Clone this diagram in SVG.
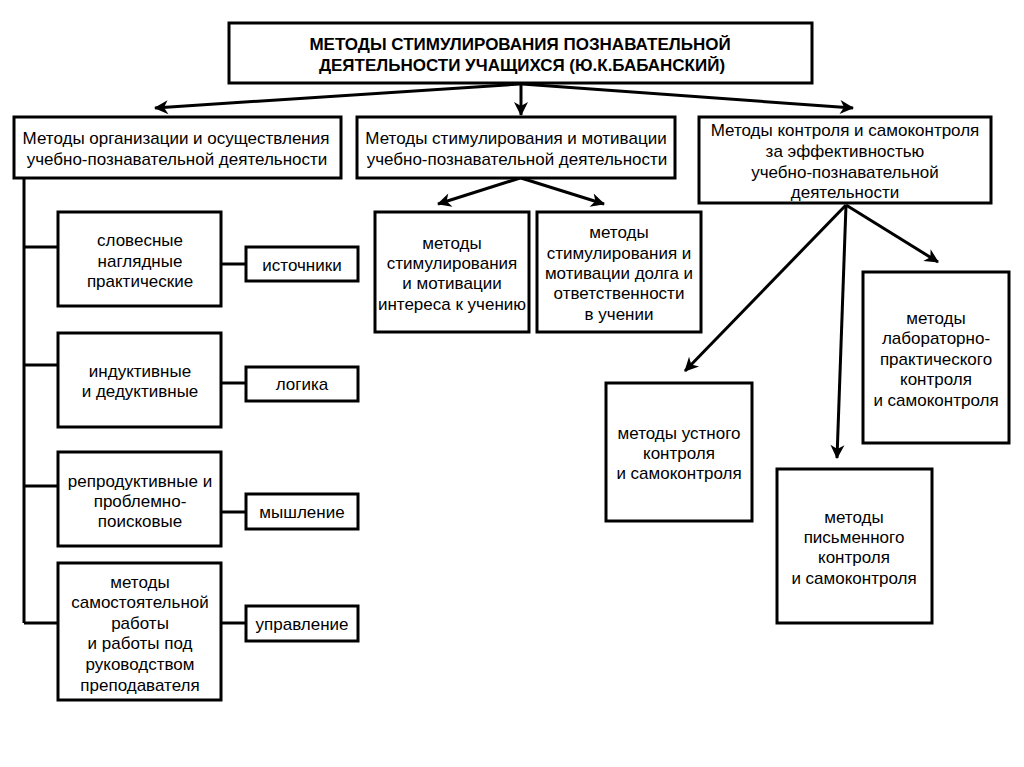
<svg xmlns="http://www.w3.org/2000/svg" width="1024" height="767" viewBox="0 0 1024 767">
<defs>
<style>
rect.b{fill:#fff;stroke:#000;stroke-width:3}
.c line,.c path{stroke:#000;stroke-width:3;fill:none}
text{font-family:"Liberation Sans",Arial,sans-serif;font-size:17px;fill:#000;text-anchor:middle}
text.t{font-weight:bold;font-size:17px}
</style>
<marker id="ah" viewBox="-14 -8 16 16" markerWidth="16" markerHeight="16" refX="0" refY="0" orient="auto" markerUnits="userSpaceOnUse">
<path d="M1,0 L-13,-7 L-9,0 L-13,7 Z" fill="#000"/>
</marker>
</defs>
<rect width="1024" height="767" fill="#fff"/>
<g class="c" id="connectors">
<line x1="520" y1="84" x2="155" y2="108" marker-end="url(#ah)"/>
<line x1="521" y1="84" x2="521" y2="115" marker-end="url(#ah)"/>
<line x1="522" y1="84" x2="853" y2="108" marker-end="url(#ah)"/>
<line x1="520" y1="178" x2="438" y2="204" marker-end="url(#ah)"/>
<line x1="521" y1="178" x2="604" y2="204" marker-end="url(#ah)"/>
<line x1="846" y1="205" x2="685" y2="371" marker-end="url(#ah)"/>
<line x1="846" y1="205" x2="837" y2="458" marker-end="url(#ah)"/>
<line x1="846" y1="205" x2="938" y2="262" marker-end="url(#ah)"/>
<path d="M24,178 V623"/>
<line x1="24" y1="247" x2="58" y2="247"/>
<line x1="24" y1="365" x2="58" y2="365"/>
<line x1="24" y1="486" x2="58" y2="486"/>
<line x1="24" y1="623" x2="58" y2="623"/>
<line x1="221" y1="264" x2="246" y2="264"/>
<line x1="221" y1="383" x2="246" y2="383"/>
<line x1="221" y1="512" x2="246" y2="512"/>
<line x1="221" y1="623" x2="246" y2="623"/>
</g>
<g id="title">
<rect class="b" x="229" y="23" width="583" height="60"/>
<text class="t" x="520" y="50">МЕТОДЫ СТИМУЛИРОВАНИЯ ПОЗНАВАТЕЛЬНОЙ</text>
<text class="t" x="522" y="71">ДЕЯТЕЛЬНОСТИ УЧАЩИХСЯ (Ю.К.БАБАНСКИЙ)</text>
</g>
<g id="org">
<rect class="b" x="14" y="117" width="327" height="61"/>
<text x="176" y="144">Методы организации и осуществления</text>
<text x="177" y="165">учебно-познавательной деятельности</text>
</g>
<g id="stim">
<rect class="b" x="357" y="117" width="318" height="61"/>
<text x="516" y="144">Методы стимулирования и мотивации</text>
<text x="517" y="165">учебно-познавательной деятельности</text>
</g>
<g id="ctrl">
<rect class="b" x="699" y="117" width="292" height="86"/>
<text x="845" y="136">Методы контроля и самоконтроля</text>
<text x="845" y="157">за эффективностью</text>
<text x="845" y="178">учебно-познавательной</text>
<text x="845" y="198">деятельности</text>
</g>
<g id="slov">
<rect class="b" x="58" y="212" width="163" height="94"/>
<text x="140" y="246">словесные</text>
<text x="140" y="267">наглядные</text>
<text x="140" y="287">практические</text>
</g>
<g id="ist">
<rect class="b" x="246" y="247" width="112" height="34"/>
<text x="302" y="271">источники</text>
</g>
<g id="ind">
<rect class="b" x="58" y="333" width="163" height="94"/>
<text x="140" y="377">индуктивные</text>
<text x="140" y="397">и дедуктивные</text>
</g>
<g id="log">
<rect class="b" x="246" y="367" width="112" height="34"/>
<text x="302" y="390">логика</text>
</g>
<g id="rep">
<rect class="b" x="58" y="452" width="163" height="94"/>
<text x="140" y="487">репродуктивные и</text>
<text x="140" y="507">проблемно-</text>
<text x="140" y="527">поисковые</text>
</g>
<g id="mysh">
<rect class="b" x="246" y="494" width="112" height="35"/>
<text x="302" y="518">мышление</text>
</g>
<g id="sam">
<rect class="b" x="58" y="563" width="163" height="137"/>
<text x="140" y="588">методы</text>
<text x="140" y="608">самостоятельной</text>
<text x="140" y="629">работы</text>
<text x="140" y="649">и работы под</text>
<text x="140" y="670">руководством</text>
<text x="140" y="691">преподавателя</text>
</g>
<g id="upr">
<rect class="b" x="246" y="606" width="112" height="35"/>
<text x="302" y="630">управление</text>
</g>
<g id="inter">
<rect class="b" x="375" y="212" width="154" height="120"/>
<text x="452" y="249">методы</text>
<text x="452" y="269">стимулирования</text>
<text x="452" y="289">и мотивации</text>
<text x="452" y="310">интереса к учению</text>
</g>
<g id="dolg">
<rect class="b" x="537" y="212" width="164" height="120"/>
<text x="619" y="238">методы</text>
<text x="619" y="259">стимулирования и</text>
<text x="619" y="279">мотивации долга и</text>
<text x="619" y="299">ответственности</text>
<text x="619" y="320">в учении</text>
</g>
<g id="lab">
<rect class="b" x="863" y="272" width="146" height="171"/>
<text x="936" y="324">методы</text>
<text x="936" y="344">лабораторно-</text>
<text x="936" y="365">практического</text>
<text x="936" y="385">контроля</text>
<text x="936" y="406">и самоконтроля</text>
</g>
<g id="ust">
<rect class="b" x="606" y="383" width="146" height="138"/>
<text x="679" y="439">методы устного</text>
<text x="679" y="459">контроля</text>
<text x="679" y="479">и самоконтроля</text>
</g>
<g id="pis">
<rect class="b" x="777" y="469" width="155" height="154"/>
<text x="854" y="523">методы</text>
<text x="854" y="543">письменного</text>
<text x="854" y="563">контроля</text>
<text x="854" y="584">и самоконтроля</text>
</g>
</svg>
